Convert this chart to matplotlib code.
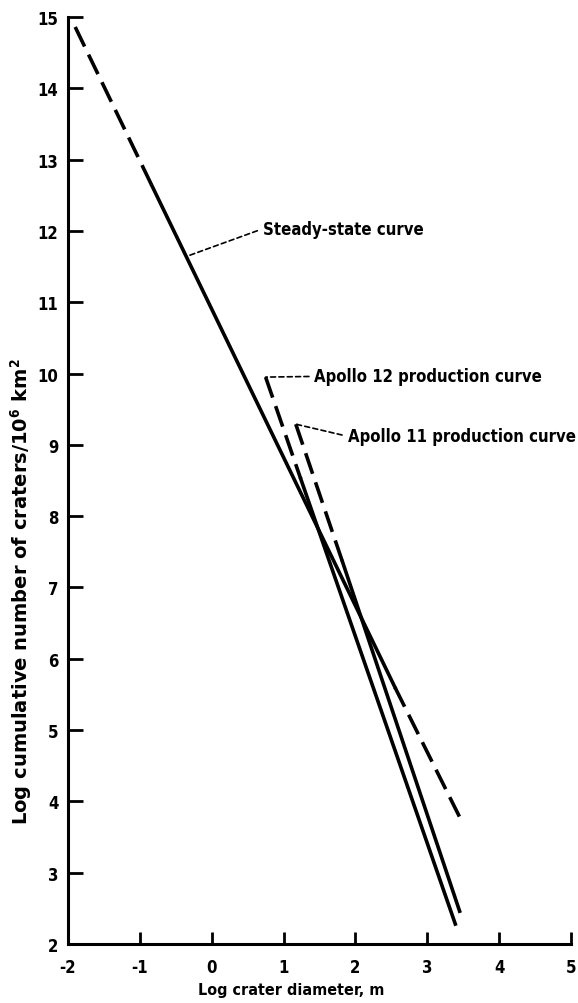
import matplotlib
matplotlib.use("Agg")
import matplotlib.pyplot as plt

plt.rcParams['font.family'] = ['DejaVu Sans']
plt.rcParams['font.stretch'] = 'condensed'
plt.rcParams['font.weight'] = 'bold'
plt.rcParams['mathtext.default'] = 'bf'

# steady-state curve: dashed / solid / dashed pieces
ss_x = [-1.9, -0.83, 2.55, 3.48]
ss_y = [14.86, 12.63, 5.6, 3.72]

# production curves: dashed top part, then solid
a12_x = [0.75, 1.24, 3.39]
a12_y = [9.95, 8.52, 2.28]
a11_x = [1.17, 1.82, 3.45]
a11_y = [9.29, 7.36, 2.46]

xticks = [-2, -1, 0, 1, 2, 3, 4, 5]
yticks = list(range(2, 16))

fig = plt.figure(figsize=(5.78, 10.04), dpi=100)
ax = fig.add_axes([68/578, 1 - 945/1004, 503/578, 927/1004])

lw = 2.6
dash = (6, 2.5)
ax.plot(ss_x[0:2], ss_y[0:2], color='k', lw=lw, dashes=dash)
ax.plot(ss_x[1:3], ss_y[1:3], color='k', lw=lw)
ax.plot(ss_x[2:4], ss_y[2:4], color='k', lw=lw, dashes=dash)

ax.plot(a12_x[0:2], a12_y[0:2], color='k', lw=lw, dashes=dash)
ax.plot(a12_x[1:3], a12_y[1:3], color='k', lw=lw)
ax.plot(a11_x[0:2], a11_y[0:2], color='k', lw=lw, dashes=dash)
ax.plot(a11_x[1:3], a11_y[1:3], color='k', lw=lw)

leader = dict(arrowstyle='-', color='k', lw=1.2, linestyle=(0, (3, 2)),
              shrinkA=2, shrinkB=0, relpos=(0, 0.5))
tsize = 12
ax.annotate('Steady-state curve', xy=(-0.33, 11.65), xytext=(0.71, 12.03),
            ha='left', va='center', fontsize=tsize, arrowprops=leader,
            annotation_clip=False)
ax.annotate('Apollo 12 production curve', xy=(a12_x[0], a12_y[0]), xytext=(1.43, 9.96),
            ha='left', va='center', fontsize=tsize, arrowprops=leader,
            annotation_clip=False)
ax.annotate('Apollo 11 production curve', xy=(a11_x[0], a11_y[0]), xytext=(1.89, 9.12),
            ha='left', va='center', fontsize=tsize, arrowprops=leader,
            annotation_clip=False)

ax.set_xlim(-2, 5)
ax.set_ylim(2, 15)
ax.set_xticks(xticks)
ax.set_yticks(yticks)
ax.set_xticklabels([str(t) for t in xticks])
ax.set_yticklabels([str(t) for t in yticks])
ax.tick_params(direction='in', width=2, labelsize=12)
ax.tick_params(axis='y', length=11, pad=7)
ax.tick_params(axis='x', length=9, pad=10)
ax.spines['top'].set_visible(False)
ax.spines['right'].set_visible(False)
ax.spines['left'].set_linewidth(2.2)
ax.spines['bottom'].set_linewidth(2.2)

fig.text(291/578, 1 - 991/1004, 'Log crater diameter, m', ha='center', va='center',
         fontsize=11.5)
fig.text(21/578, 1 - 592/1004, r'Log cumulative number of craters/10$^6$ km$^2$',
         ha='center', va='center', rotation=90, fontsize=14, fontstretch='normal')

fig.savefig('out.png', dpi=100)
